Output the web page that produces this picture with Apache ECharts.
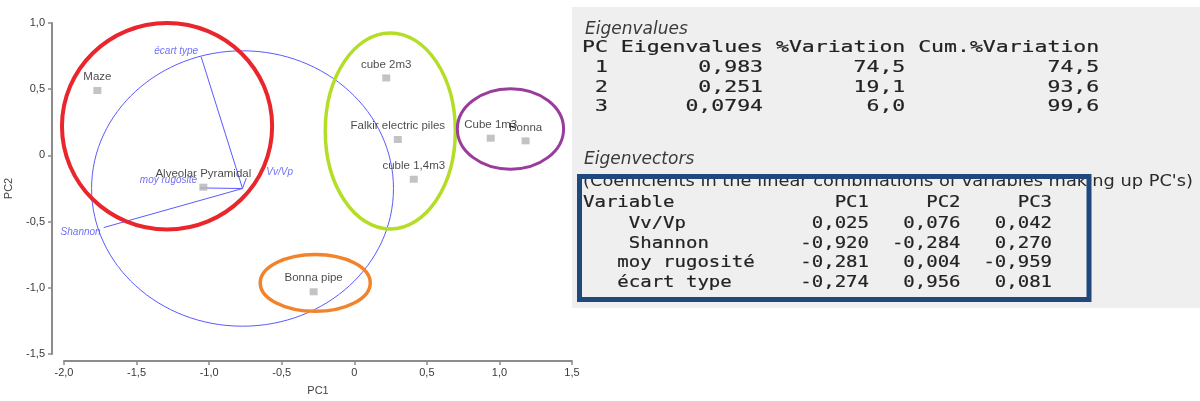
<!DOCTYPE html>
<html><head><meta charset="utf-8">
<script src="https://cdn.jsdelivr.net/npm/echarts@6/dist/echarts.min.js"></script>
<style>html,body{margin:0;padding:0;background:#fff}#c{width:1200px;height:401px}</style>
</head><body><div id="c"></div>
<script>
// ---------- data ----------
const sampleNames = ['Maze','Alveolar Pyramidal','cube 2m3','Falkir electric piles','cuble 1,4m3','Cube 1m3','Bonna','Bonna pipe'];
const samplePC1 = [-1.77,-1.04,0.22,0.30,0.41,0.94,1.18,-0.28];
const samplePC2 = [0.49,-0.24,0.585,0.12,-0.18,0.13,0.11,-1.03];

const variableNames = ['Vv/Vp','Shannon','moy rugosité','écart type'];
const loadPC1 = [0.025,-0.920,-0.281,-0.274];
const loadPC2 = [0.076,-0.284,0.004,0.956];
const loadPC3 = [0.042,0.270,-0.959,0.081];
const biplotOrigin = [-0.77,-0.25];
const biplotScale = 1.04;

const eigPC = [1,2,3];
const eigValues = [0.983,0.251,0.0794];
const pctVariation = [74.5,19.1,6.0];
const cumVariation = [74.5,93.6,99.6];

const groupCenterX = [-1.29,0.248,1.076,-0.269];
const groupCenterY = [0.22,0.185,0.2,-0.963];
const groupRadiusX = [0.724,0.448,0.366,0.379];
const groupRadiusY = [0.78,0.74,0.304,0.215];

const axisXTitle = 'PC1';
const axisYTitle = 'PC2';
const evTitle = 'Eigenvalues';
const evHeader = 'PC Eigenvalues %Variation Cum.%Variation';
const vecTitle = 'Eigenvectors';
const vecNote = "(Coefficients in the linear combinations of variables making up PC's)";
const vecHeaderCols = ['Variable','PC1','PC2','PC3'];

// ---------- styles ----------
const groupColors = ['#e8262c','#b4de26','#9a3c9c','#f3832b'];
const groupWidths = [4,3.5,3,3.5];
const varIndent = [4,4,3,3];
const varLabelStyle = [
  {position:'right', distance:20, offset:[0,-6]},
  {position:'left', distance:3, offset:[0,5]},
  {position:'left', distance:3, offset:[0,-8]},
  {position:'left', distance:3, offset:[0,-6]}
];
const BLUE = '#5a5aff';
const SANS = '"Liberation Sans", Arial, sans-serif';
const MONO = '"DejaVu Sans Mono", monospace';

const comma = s => String(s).replace('.', ',');
const tickFmt = v => v === 0 ? '0' : comma(v.toFixed(1));

// ---------- text panel ----------
const mctx = document.createElement('canvas').getContext('2d');
function widthOf(txt, font){ mctx.font = font; return mctx.measureText(txt).width; }
const monoFont = '16px ' + MONO;
const monoChar = widthOf('0000000000', monoFont)/10;

const evRows = eigPC.map((pc,i) =>
  String(pc).padStart(2) +
  comma(eigValues[i].toPrecision(3)).padStart(12) +
  comma(pctVariation[i].toFixed(1)).padStart(11) +
  comma(cumVariation[i].toFixed(1)).padStart(15));
const vecHeader = vecHeaderCols[0].padEnd(22) + vecHeaderCols[1] + vecHeaderCols[2].padStart(8) + vecHeaderCols[3].padStart(8);
const f3 = v => comma(v.toFixed(3));
const vecRows = variableNames.map((n,i) =>
  (' '.repeat(varIndent[i]) + n).padEnd(19) +
  f3(loadPC1[i]).padStart(6) + f3(loadPC2[i]).padStart(8) + f3(loadPC3[i]).padStart(8));

function monoText(txt, x, y, charW){
  return {type:'text', x:x, y:y, scaleX: charW/monoChar, z:10,
    style:{text:txt, font:monoFont, fill:'#222222', stroke:'#222222', lineWidth:0.2,
      textAlign:'left', textVerticalAlign:'middle', align:'left', verticalAlign:'middle'}};
}
const graphics = [];
graphics.push({type:'rect', shape:{x:572,y:7,width:628,height:301}, style:{fill:'#efefef'}, z:1});
graphics.push({type:'text', x:585, y:30, z:10, style:{text:evTitle, font:'italic 17px "DejaVu Sans", sans-serif', fill:'#3a3a3a', textVerticalAlign:'middle', verticalAlign:'middle'}});
graphics.push(monoText(evHeader, 582, 48, 12.93));
const evY = [68,88,107];
evRows.forEach((r,i)=>graphics.push(monoText(r, 582, evY[i], 12.93)));
graphics.push({type:'text', x:584, y:160, z:10, style:{text:vecTitle, font:'italic 17px "DejaVu Sans", sans-serif', fill:'#3a3a3a', textVerticalAlign:'middle', verticalAlign:'middle'}});
const noteFont = '15px "DejaVu Sans", sans-serif';
graphics.push({type:'text', x:583, y:182, z:10, scaleX: 610/widthOf(vecNote, noteFont),
  style:{text:vecNote, font:noteFont, fill:'#2a2a2a', textVerticalAlign:'middle', verticalAlign:'middle'}});
graphics.push(monoText(vecHeader, 583, 203, 11.44));
const vecY = [224,244,263,283];
vecRows.forEach((r,i)=>graphics.push(monoText(r, 583, vecY[i], 11.44)));
graphics.push({type:'rect', shape:{x:579.5,y:176.5,width:509.5,height:123}, style:{fill:'none', stroke:'#1f497d', lineWidth:5}, z:20});

// ---------- chart ----------
const chart = echarts.init(document.getElementById('c'), null, {renderer:'canvas'});
const axisCommon = {
  axisLine:{show:true, onZero:false, lineStyle:{color:'#8c8c8c', width:2}},
  axisTick:{show:true, length:4, lineStyle:{color:'#8c8c8c', width:1.5}},
  splitLine:{show:false},
  nameTextStyle:{color:'#444', fontSize:11, fontFamily:SANS},
  axisLabel:{color:'#3a3a3a', fontSize:11, fontFamily:SANS, formatter:tickFmt}
};
chart.setOption({
  animation:false,
  backgroundColor:'#ffffff',
  grid:{left:64, right:628, top:23, bottom:40, containLabel:false},
  xAxis:Object.assign({}, axisCommon, {type:'value', min:-2, max:1.5, interval:0.5, offset:7,
    name:axisXTitle, nameLocation:'middle', nameGap:24,
    axisLabel:Object.assign({}, axisCommon.axisLabel, {margin:6})}),
  yAxis:Object.assign({}, axisCommon, {type:'value', min:-1.5, max:1, interval:0.5, offset:12,
    name:axisYTitle, nameLocation:'middle', nameGap:38, nameRotate:90,
    axisLabel:Object.assign({}, axisCommon.axisLabel, {margin:7})}),
  graphic:{elements:graphics},
  series:[
    { // correlation circle
      type:'custom', clip:false, silent:true, z:2,
      data:[[biplotOrigin[0], biplotOrigin[1], biplotScale]],
      renderItem:(p, api)=>{
        const c = api.coord([api.value(0), api.value(1)]);
        const s = api.size([api.value(2), api.value(2)]);
        return {type:'ellipse', shape:{cx:c[0], cy:c[1], rx:s[0], ry:s[1]}, style:{fill:'none', stroke:BLUE, lineWidth:1}};
      }
    },
    { // loading vectors
      type:'custom', clip:false, silent:true, z:3,
      data:variableNames.map((n,i)=>[loadPC1[i], loadPC2[i]]),
      renderItem:(p, api)=>{
        const o = api.coord(biplotOrigin);
        const e = api.coord([biplotOrigin[0]+biplotScale*api.value(0), biplotOrigin[1]+biplotScale*api.value(1)]);
        return {type:'line', shape:{x1:o[0], y1:o[1], x2:e[0], y2:e[1]}, style:{stroke:BLUE, lineWidth:1}};
      }
    },
    { // group ellipses
      type:'custom', clip:false, silent:true, z:5,
      data:groupCenterX.map((x,i)=>[x, groupCenterY[i], groupRadiusX[i], groupRadiusY[i]]),
      renderItem:(p, api)=>{
        const c = api.coord([api.value(0), api.value(1)]);
        const s = api.size([api.value(2), api.value(3)]);
        return {type:'ellipse', shape:{cx:c[0], cy:c[1], rx:s[0], ry:s[1]},
          style:{fill:'none', stroke:groupColors[p.dataIndex], lineWidth:groupWidths[p.dataIndex]}};
      }
    },
    { // variable labels
      type:'scatter', symbolSize:0, silent:true, z:6,
      data:variableNames.map((n,i)=>({name:n,
        value:[biplotOrigin[0]+biplotScale*loadPC1[i], biplotOrigin[1]+biplotScale*loadPC2[i]],
        label:Object.assign({show:true, formatter:'{b}', color:'#4b4bf5', fontSize:10, fontStyle:'italic', fontFamily:SANS}, varLabelStyle[i])}))
    },
    { // samples
      type:'scatter', symbol:'rect', symbolSize:[8,7], z:7,
      itemStyle:{color:'#b4b4b4'},
      label:{show:true, position:'top', distance:4, formatter:'{b}', color:'#1a1a1a', fontSize:11.5, fontFamily:SANS},
      data:sampleNames.map((n,i)=>({name:n, value:[samplePC1[i], samplePC2[i]]}))
    }
  ]
});
</script>
</body></html>
